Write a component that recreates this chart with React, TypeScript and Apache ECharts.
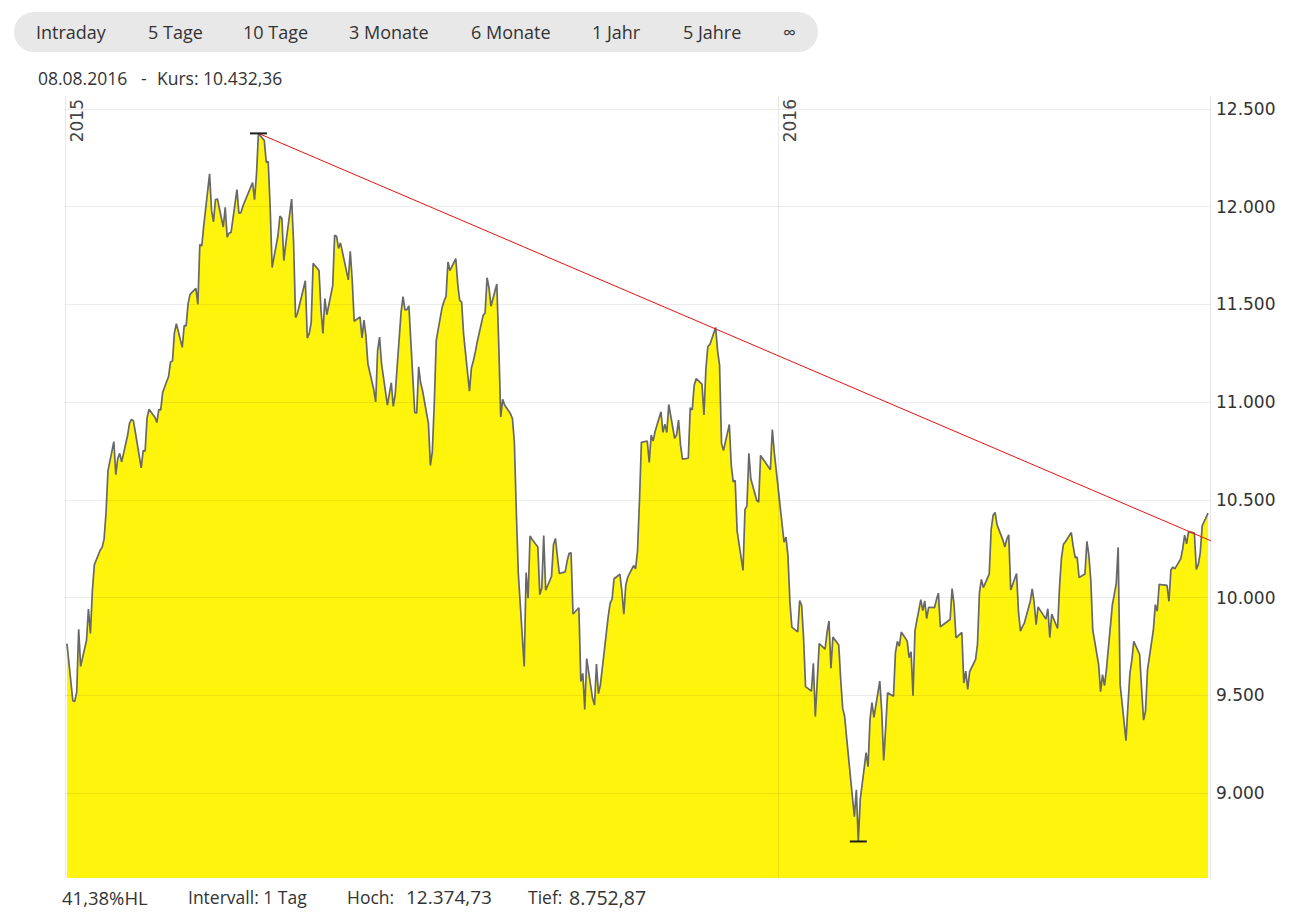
import React, { useEffect, useRef } from 'react';
import * as echarts from 'echarts';

// DAX daily closes, one array per month (trading days in order)
const jan15 = [9764.73, 9473.16, 9469.66, 9518.18, 9837.61, 9648.5, 9781.87, 9941.42, 9817.08, 10032.61, 10167.77, 10242.35, 10257.13, 10299.23, 10435.62, 10649.58, 10798.33, 10628.58, 10710.97, 10738.09, 10694.32];
const feb15 = [10828.01, 10890.95, 10911.32, 10905.44, 10846.37, 10663.51, 10752.11, 10749.73, 10919.65, 10963.4, 10923.23, 10895.82, 10961.97, 10960.97, 11050.64, 11130.92, 11205.68, 11210.27, 11354.37, 11401.66];
const mar15 = [11280.22, 11391.45, 11390.38, 11504.01, 11550.97, 11582.67, 11500.38, 11805.99, 11799.39, 11901.61, 12167.72, 11980.85, 11922.77, 12036.53, 12039.37, 11895.84, 11996.07, 11843.67, 11865.32, 11868.33, 12086.84, 11966.17];
const apr15 = [11968.58, 12001.38, 12123.52, 12035.86, 12166.44, 12374.73, 12338.71, 12227.6, 12231.34, 11998.54, 11688.7, 11852.4, 11951.65, 11939.3, 11723.51, 11810.85, 12039.16, 11811.89, 11432.72, 11454.38];
const may15 = [11621.08, 11327.72, 11350.15, 11407.65, 11709.73, 11673.21, 11472.41, 11351.49, 11530.0, 11447.03, 11594.93, 11853.33, 11848.47, 11786.35, 11815.01, 11625.13, 11771.13, 11624.91, 11413.82];
const jun15 = [11436.05, 11328.8, 11419.62, 11340.13, 11197.15, 11064.92, 11001.12, 11265.39, 11332.78, 11196.49, 10984.97, 11044.01, 11099.35, 10978.01, 11040.1, 11460.51, 11540.0, 11471.44, 11473.13, 11492.43, 10946.0, 10944.97];
const jul15 = [11180.5, 11099.35, 11058.39, 10890.63, 10676.78, 10747.31, 10996.41, 11315.63, 11484.38, 11516.9, 11539.66, 11716.75, 11673.37, 11734.67, 11603.96, 11520.67, 11512.11, 11347.45, 11056.4, 11173.91, 11211.68, 11257.15, 11308.99];
const aug15 = [11443.72, 11456.07, 11636.3, 11585.16, 11490.83, 11604.78, 11293.64, 10924.61, 11014.63, 10985.14, 10940.33, 10915.98, 10793.77, 10432.19, 10124.52, 9648.43, 10128.12, 9997.43, 10315.62, 10298.53, 10259.46];
const sep15 = [10015.57, 10048.07, 10317.84, 10038.04, 10108.61, 10271.36, 10303.12, 10210.44, 10123.56, 10131.74, 10188.13, 10227.21, 10229.58, 9916.16, 9948.51, 9570.66, 9612.62, 9427.64, 9688.53, 9483.55, 9450.38, 9660.44];
const oct15 = [9509.25, 9553.07, 9814.79, 9902.83, 9970.4, 9993.07, 10096.6, 10119.83, 10032.82, 9915.85, 10064.8, 10104.43, 10164.31, 10147.68, 10238.1, 10491.97, 10794.54, 10801.34, 10692.19, 10831.96, 10800.84, 10850.14];
const nov15 = [10950.68, 10845.24, 10887.4, 10845.0, 10988.03, 10815.45, 10832.52, 10907.87, 10782.63, 10708.4, 10713.23, 10971.04, 10959.95, 11085.44, 11119.83, 11092.33, 10933.99, 11169.54, 11284.71, 11293.76, 11382.23];
const dec15 = [11261.24, 11190.02, 10789.24, 10752.1, 10886.09, 10673.6, 10592.49, 10598.93, 10340.06, 10139.34, 10450.38, 10469.26, 10738.12, 10608.19, 10497.77, 10488.75, 10727.64, 10653.91, 10860.14, 10743.01];
const jan16 = [10283.44, 10310.1, 10214.02, 9979.85, 9849.34, 9825.07, 9985.43, 9960.96, 9794.2, 9545.27, 9521.85, 9664.21, 9391.64, 9574.16, 9764.88, 9736.15, 9822.75, 9880.82, 9639.59, 9798.11];
const feb16 = [9757.88, 9581.04, 9434.82, 9393.36, 9286.23, 8979.36, 8879.4, 9017.29, 8752.87, 8967.51, 9206.84, 9135.11, 9377.21, 9463.64, 9388.05, 9573.59, 9416.77, 9167.8, 9331.48, 9513.3, 9495.4];
const mar16 = [9717.16, 9776.62, 9751.92, 9824.17, 9778.93, 9692.82, 9723.09, 9498.15, 9831.13, 9990.26, 9933.85, 9983.41, 9892.2, 9950.8, 9948.64, 9990.0, 10022.93, 9851.35, 9887.94, 10046.61, 9965.51];
const apr16 = [9794.64, 9822.08, 9563.36, 9624.51, 9530.62, 9622.26, 9682.99, 9761.47, 10026.1, 10093.65, 10051.57, 10120.31, 10349.59, 10421.29, 10435.73, 10373.49, 10294.35, 10259.59, 10299.83, 10321.16, 10038.97];
const may16 = [10123.27, 9926.77, 9828.25, 9851.86, 9869.95, 9980.49, 10045.44, 9975.32, 9862.12, 9952.9, 9890.19, 9943.23, 9795.89, 9916.02, 9842.29, 10057.31, 10205.2, 10272.71, 10286.31, 10333.23, 10262.74];
const jun16 = [10204.44, 10208.0, 10103.26, 10121.08, 10287.68, 10217.03, 10088.87, 9834.62, 9657.44, 9519.2, 9606.71, 9550.47, 9631.36, 9962.02, 10015.54, 10071.06, 10257.03, 9557.16, 9268.66, 9447.28, 9612.27, 9680.09];
const jul16 = [9776.12, 9709.09, 9532.61, 9373.26, 9418.78, 9629.66, 9833.41, 9964.07, 9930.73, 10068.3, 10066.9, 10063.13, 9981.24, 10142.01, 10156.21, 10147.46, 10198.24, 10247.76, 10319.55, 10274.93, 10337.5];
const aug16 = [10330.23, 10144.35, 10170.21, 10227.86, 10367.21, 10432.36];

const months: [number, number, number[]][] = [
  [2015, 0, jan15], [2015, 1, feb15], [2015, 2, mar15], [2015, 3, apr15], [2015, 4, may15], [2015, 5, jun15],
  [2015, 6, jul15], [2015, 7, aug15], [2015, 8, sep15], [2015, 9, oct15], [2015, 10, nov15], [2015, 11, dec15],
  [2016, 0, jan16], [2016, 1, feb16], [2016, 2, mar16], [2016, 3, apr16], [2016, 4, may16], [2016, 5, jun16],
  [2016, 6, jul16], [2016, 7, aug16],
];

// exchange holidays (no trading)
const holidays = [
  '2015-01-01', '2015-04-03', '2015-04-06', '2015-05-01', '2015-05-25', '2015-12-24', '2015-12-25', '2015-12-31',
  '2016-01-01', '2016-03-25', '2016-03-28', '2016-05-16',
];

const yTicks = [9000, 9500, 10000, 10500, 11000, 11500, 12000, 12500];
const yearLines = [
  { date: '2015-01-01', label: '2015' },
  { date: '2016-01-01', label: '2016' },
];
const trendLine = [
  ['2015-04-10', 12374.73],
  ['2016-09-20', 10113],
];
const tabs = ['Intraday', '5 Tage', '10 Tage', '3 Monate', '6 Monate', '1 Jahr', '5 Jahre', '∞'];
const tabX = [36, 148, 243, 349, 471, 592, 683, 783];

const pad = (n: number) => (n < 10 ? '0' + n : '' + n);
function tradingDates(year: number, month: number, count: number): string[] {
  const out: string[] = [];
  const last = new Date(year, month + 1, 0).getDate();
  for (let d = 1; d <= last && out.length < count; d++) {
    const wd = new Date(year, month, d).getDay();
    if (wd === 0 || wd === 6) continue;
    const s = `${year}-${pad(month + 1)}-${pad(d)}`;
    if (holidays.indexOf(s) >= 0) continue;
    out.push(s);
  }
  return out;
}

const fmtThousands = (v: number) => String(v).replace(/\B(?=(\d{3})+(?!\d))/g, '.');

export default function App() {
  const ref = useRef<HTMLDivElement>(null);
  useEffect(() => {
    if (!ref.current) return;
    const chart = echarts.init(ref.current, undefined, { renderer: 'svg' });
    const data: [string, number][] = [];
    months.forEach(([y, m, vals]) => {
      const ds = tradingDates(y, m, vals.length);
      ds.forEach((d, i) => data.push([d, vals[i]]));
    });
    let hi = data[0], lo = data[0];
    data.forEach((p) => {
      if (p[1] > hi[1]) hi = p;
      if (p[1] < lo[1]) lo = p;
    });
    const sans = "'Open Sans', sans-serif";
    const txt = (text: string, x: number, y: number, size = 18) => ({
      type: 'text', x, y, z: 10,
      style: { text, fill: '#333', fontSize: size, fontFamily: sans, align: 'left', verticalAlign: 'middle' },
    });
    chart.setOption({
      animation: false,
      grid: { left: 65, right: 82, top: 96, bottom: 35 },
      xAxis: {
        type: 'time', min: '2015-01-01', max: '2016-08-09',
        axisLine: { show: false }, axisTick: { show: false }, axisLabel: { show: false }, splitLine: { show: false },
      },
      yAxis: {
        type: 'value', position: 'right', min: 8566, max: 12566, z: 3,
        axisLine: { show: true, lineStyle: { color: '#e4e4e4', width: 1 } },
        axisTick: { show: false, customValues: yTicks },
        axisLabel: {
          customValues: yTicks, formatter: (v: number) => fmtThousands(v),
          color: '#333', fontFamily: "'DejaVu Sans', sans-serif", fontSize: 17, margin: 6,
        },
        splitLine: { show: true, lineStyle: { color: 'rgba(0,0,0,0.075)', width: 1 } },
      },
      series: [
        {
          type: 'line', name: 'DAX', data, symbol: 'none', showSymbol: false, z: 2,
          lineStyle: { color: '#686868', width: 1.7 },
          areaStyle: { color: '#fff40c', opacity: 1, origin: 'start' },
          markLine: {
            silent: true, symbol: ['none', 'none'], animation: false,
            lineStyle: { color: 'rgba(0,0,0,0.09)', width: 1, type: 'solid' },
            label: {
              show: true, position: 'insideEndBottom', formatter: '{b}', distance: 3,
              color: '#444', fontSize: 17, fontFamily: "'DejaVu Sans', sans-serif",
            },
            data: yearLines.map((yl) => ({ xAxis: yl.date, name: yl.label })),
          },
          markPoint: {
            silent: true, symbol: 'rect', symbolSize: [17, 2], animation: false,
            itemStyle: { color: '#1e1e1e' }, label: { show: false },
            data: [{ coord: hi }, { coord: lo }],
          },
        },
        {
          type: 'line', name: 'Trend', data: trendLine, symbol: 'none', showSymbol: false, clip: false, z: 4,
          silent: true, lineStyle: { color: '#e8130f', width: 1 },
        },
      ],
      graphic: [
        { type: 'rect', z: 9, shape: { x: 14, y: 12, width: 804, height: 40, r: 20 }, style: { fill: '#e8e8e8' } },
        ...tabs.map((t, i) => txt(t, tabX[i], 32)),
        txt('08.08.2016', 38, 78, 17.5),
        txt('-', 141, 78, 17.5),
        txt('Kurs: 10.432,36', 157, 78, 17.5),
        txt('41,38%HL', 62, 897, 18.5),
        txt('Intervall: 1 Tag', 188, 897, 17.5),
        txt('Hoch:', 347, 897, 17.5),
        txt('12.374,73', 406, 897, 19),
        txt('Tief:', 528, 897, 17.5),
        txt('8.752,87', 569, 897, 19.5),
      ],
    });
    return () => chart.dispose();
  }, []);
  return <div ref={ref} style={{ position: 'absolute', left: 0, top: 0, width: 1292, height: 913 }} />;
}
